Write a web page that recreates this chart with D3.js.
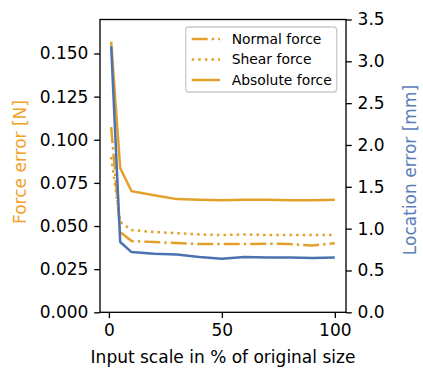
<!DOCTYPE html>
<html>
<head>
<meta charset="utf-8">
<script src="https://cdn.jsdelivr.net/npm/d3@7"></script>
<style>
body { margin: 0; background: #fff; }
text { font-family: "DejaVu Sans", sans-serif; }
</style>
</head>
<body>
<div id="graph"></div>
<script>
// input scale (% of original size)
var scale = [1, 5, 10, 20, 30, 40, 50, 60, 70, 80, 90, 100]
// force errors [N]
var normalForce   = [0.1073, 0.0465, 0.0413, 0.0407, 0.0401, 0.0396, 0.0396, 0.0396, 0.0398, 0.0396, 0.0387, 0.0400]
var shearForce    = [0.0900, 0.0523, 0.0477, 0.0465, 0.0459, 0.0451, 0.0448, 0.0451, 0.0448, 0.0448, 0.0448, 0.0448]
var absoluteForce = [0.1568, 0.0836, 0.0702, 0.0679, 0.0656, 0.0653, 0.0650, 0.0653, 0.0652, 0.0650, 0.0650, 0.0652]
// location error [mm]
var locationError = [3.18, 0.84, 0.72, 0.70, 0.69, 0.66, 0.64, 0.66, 0.655, 0.655, 0.65, 0.655]

var xTicks = [0, 50, 100]
var forceTicks = [0, 0.025, 0.05, 0.075, 0.1, 0.125, 0.15]
var locTicks = [0, 0.5, 1, 1.5, 2, 2.5, 3, 3.5]

var orange = "#E3A02A"
var blue = "#4C72B0"

var width = 423, height = 380
var margin = {top: 19.5, left: 100, right: 77, bottom: 67.7}
var chartWidth = width - margin.left - margin.right
var chartHeight = height - margin.top - margin.bottom

var svg = d3.select("#graph").append("svg")
	.attr("width", width).attr("height", height)

var x = d3.scaleLinear().domain([-3.95, 104.95]).range([margin.left, margin.left + chartWidth])
var yF = d3.scaleLinear().domain([0, 0.1697]).range([margin.top + chartHeight, margin.top])
var yL = d3.scaleLinear().domain([0, 3.5]).range([margin.top + chartHeight, margin.top])

function lineOf(values, y) {
	return d3.line()
		.x(function(d, i) { return x(scale[i]) })
		.y(function(d) { return y(d) })(values)
}

var plot = svg.append("g")
// force lines (left axis)
var series = [
	{name: "Normal force", values: normalForce, dash: "16,4,2.5,4"},
	{name: "Shear force", values: shearForce, dash: "2.5,4.1"},
	{name: "Absolute force", values: absoluteForce, dash: null}
]
series.forEach(function(s) {
	plot.append("path")
		.attr("d", lineOf(s.values, yF))
		.attr("fill", "none")
		.attr("stroke", orange)
		.attr("stroke-width", 2.5)
		.attr("stroke-dasharray", s.dash)
})
// location line (right axis)
plot.append("path")
	.attr("d", lineOf(locationError, yL))
	.attr("fill", "none")
	.attr("stroke", blue)
	.attr("stroke-width", 2.5)
	.attr("stroke-linejoin", "round")

// axes
var fs = "17px"
function styleAxis(g) {
	g.selectAll(".domain").remove()
	g.selectAll(".tick line").attr("stroke", "#000").attr("stroke-width", 1.33)
	g.selectAll(".tick text").attr("fill", "#000").style("font-size", fs).style("font-family", "DejaVu Sans")
}
svg.append("g")
	.attr("transform", "translate(0," + (margin.top + chartHeight) + ")")
	.call(d3.axisBottom(x).tickValues(xTicks).tickSize(5.8).tickPadding(5.8))
	.call(styleAxis)
svg.append("g")
	.attr("transform", "translate(" + margin.left + ",0)")
	.call(d3.axisLeft(yF).tickValues(forceTicks).tickFormat(d3.format(".3f")).tickSize(5.8).tickPadding(5.8))
	.call(styleAxis)
svg.append("g")
	.attr("transform", "translate(" + (margin.left + chartWidth) + ",0)")
	.call(d3.axisRight(yL).tickValues(locTicks).tickFormat(d3.format(".1f")).tickSize(5.8).tickPadding(5.8))
	.call(styleAxis)

// frame
svg.append("rect")
	.attr("x", margin.left).attr("y", margin.top)
	.attr("width", chartWidth).attr("height", chartHeight)
	.attr("fill", "none").attr("stroke", "#000").attr("stroke-width", 1.33)

// axis labels
svg.append("text")
	.attr("x", (margin.left + margin.left + chartWidth) / 2).attr("y", 363)
	.attr("text-anchor", "middle").style("font-size", fs)
	.text("Input scale in % of original size")
svg.append("text")
	.attr("transform", "translate(20,162) rotate(-90)")
	.attr("text-anchor", "middle").attr("dy", "0.35em")
	.attr("fill", "#F2A22A").style("font-size", fs)
	.text("Force error [N]")
svg.append("text")
	.attr("transform", "translate(410,170) rotate(-90)")
	.attr("text-anchor", "middle").attr("dy", "0.35em")
	.attr("fill", "#5A7EBA").style("font-size", fs)
	.text("Location error [mm]")

// legend
var legend = svg.append("g")
legend.append("rect")
	.attr("x", 185.7).attr("y", 27).attr("width", 151).attr("height", 65)
	.attr("rx", 3).attr("fill", "#fff").attr("fill-opacity", 0.8)
	.attr("stroke", "#ccc").attr("stroke-width", 1.33)
series.forEach(function(s, i) {
	var yy = 39 + i * 20.5
	legend.append("line")
		.attr("x1", 191.7).attr("x2", 220).attr("y1", yy).attr("y2", yy)
		.attr("stroke", orange).attr("stroke-width", 2.5)
		.attr("stroke-dasharray", s.dash)
	legend.append("text")
		.attr("x", 231.7).attr("y", yy).attr("dy", "0.35em")
		.style("font-size", "13.9px")
		.text(s.name)
})
</script>
</body>
</html>
